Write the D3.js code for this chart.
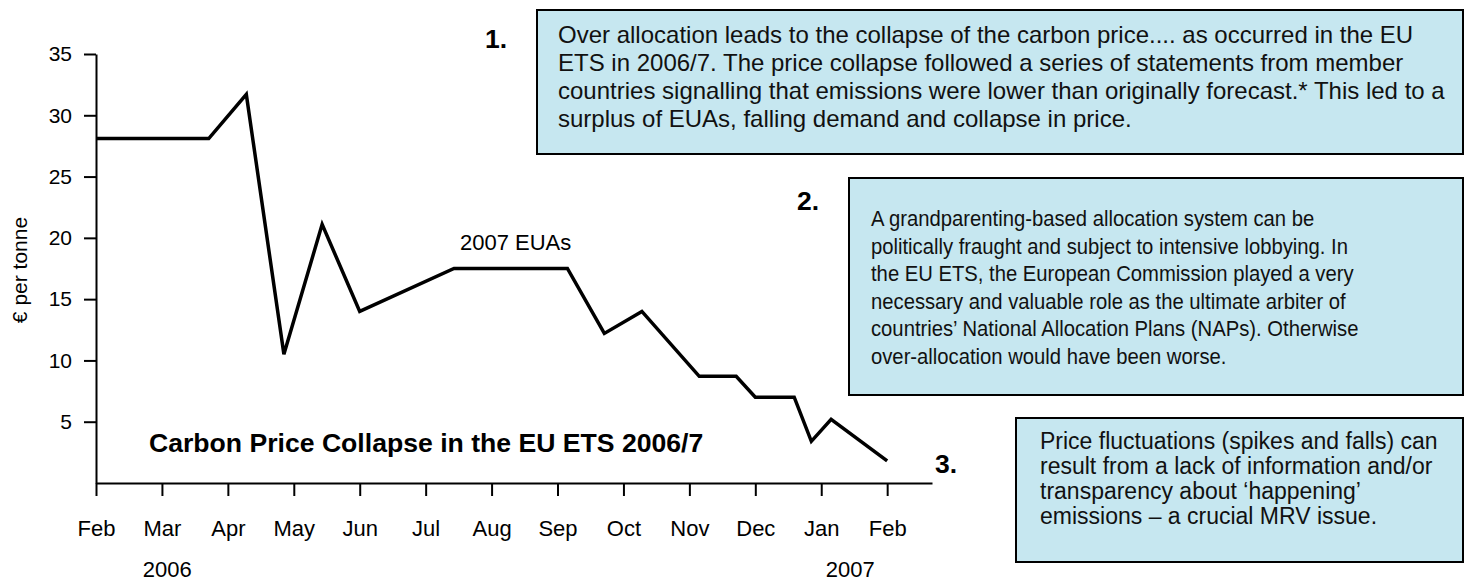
<!DOCTYPE html>
<html>
<head>
<meta charset="utf-8">
<script src="https://cdn.jsdelivr.net/npm/d3@7"></script>
<style>
  html, body { margin: 0; padding: 0; background: #fff; }
  svg { display: block; font-family: "Liberation Sans", Arial, sans-serif; }
</style>
</head>
<body>
<svg id="chart" width="1464" height="581"></svg>
<script>
// ---- data ----
const monthLabels = ["Feb","Mar","Apr","May","Jun","Jul","Aug","Sep","Oct","Nov","Dec","Jan","Feb"];
const yearLabels = ["2006","2007"];
const yearPos = [1.08, 11.44];
const yTickValues = [5,10,15,20,25,30,35];
// time position in months after Feb 2006
const monthPos = [0, 1.71, 2.28, 2.85, 3.43, 4.0, 5.43, 7.15, 7.71, 8.28, 9.15, 9.71, 10.0, 10.59, 10.85, 11.15, 12.0];
// price of 2007 EUAs, € per tonne
const price = [28.1, 28.1, 31.7, 10.5, 21.1, 14.0, 17.5, 17.5, 12.2, 14.0, 8.7, 8.7, 7.0, 7.0, 3.4, 5.2, 1.8];
const seriesLabel = "2007 EUAs";
const seriesLabelAt = [5.52, 19.0];
const chartTitle = "Carbon Price Collapse in the EU ETS 2006/7";
const yAxisTitle = "€ per tonne";

const note1 = [
  "Over allocation leads to the collapse of the carbon price.... as occurred in the EU",
  "ETS in 2006/7. The price collapse followed a series of statements from member",
  "countries signalling that emissions were lower than originally forecast.* This led to a",
  "surplus of EUAs, falling demand and collapse in price."
];
const note2 = [
  "A grandparenting-based allocation system can be",
  "politically fraught and subject to intensive lobbying. In",
  "the EU ETS, the European Commission played a very",
  "necessary and valuable role as the ultimate arbiter of",
  "countries’ National Allocation Plans (NAPs). Otherwise",
  "over-allocation would have been worse."
];
const note3 = [
  "Price fluctuations (spikes and falls) can",
  "result from a lack of information and/or",
  "transparency about ‘happening’",
  "emissions – a crucial MRV issue."
];

// ---- drawing ----
const svg = d3.select("#chart");
const x = d3.scaleLinear().domain([0, 12.68]).range([96, 932]);
const y = d3.scaleLinear().domain([0, 35]).range([483, 54]);

// x axis
const xAxis = d3.axisBottom(x)
  .tickValues(d3.range(monthLabels.length))
  .tickFormat(i => monthLabels[i])
  .tickSize(13).tickSizeOuter(0).tickPadding(24);
const gx = svg.append("g").attr("transform", `translate(0,${y(0)})`).call(xAxis);
gx.selectAll("text").attr("font-size", 22).attr("fill", "#000").attr("font-family", null);
gx.selectAll("line, path").attr("stroke", "#000").attr("stroke-width", 2);

// y axis
const yAxis = d3.axisLeft(y)
  .tickValues(yTickValues)
  .tickSize(12).tickSizeOuter(0).tickPadding(12);
const gy = svg.append("g").attr("transform", `translate(${x(0)},0)`).call(yAxis);
gy.selectAll("text").attr("font-size", 21).attr("fill", "#000").attr("font-family", null);
gy.selectAll("line, path").attr("stroke", "#000").attr("stroke-width", 2);

// year labels
svg.selectAll("text.year").data(yearLabels).join("text")
  .attr("class", "year")
  .attr("x", (d, i) => x(yearPos[i]))
  .attr("y", 577)
  .attr("text-anchor", "middle")
  .attr("font-size", 22)
  .text(d => d);

// y axis title
svg.append("text")
  .attr("transform", `translate(27,270) rotate(-90)`)
  .attr("text-anchor", "middle")
  .attr("font-size", 21)
  .text(yAxisTitle);

// line
const pts = monthPos.map((m, i) => [m, price[i]]);
svg.append("path")
  .datum(pts)
  .attr("fill", "none")
  .attr("stroke", "#000")
  .attr("stroke-width", 3.5)
  .attr("stroke-linejoin", "miter")
  .attr("d", d3.line().x(d => x(d[0])).y(d => y(d[1])));

// series label
svg.append("text")
  .attr("x", x(seriesLabelAt[0]))
  .attr("y", y(seriesLabelAt[1]))
  .attr("font-size", 22)
  .text(seriesLabel);

// title
svg.append("text")
  .attr("x", 149).attr("y", 452)
  .attr("font-size", 26.6)
  .attr("font-weight", "bold")
  .text(chartTitle);

// note boxes
function noteBox(num, numX, numY, bx, by, bw, bh, lines, tx, ty, lh, fs, sx) {
  svg.append("text")
    .attr("x", numX).attr("y", numY)
    .attr("font-size", 26.5).attr("font-weight", "bold")
    .text(num);
  svg.append("rect")
    .attr("x", bx).attr("y", by).attr("width", bw).attr("height", bh)
    .attr("fill", "#c6e7f0").attr("stroke", "#000").attr("stroke-width", 2);
  svg.append("g")
    .attr("transform", `translate(${tx},${ty}) scale(${sx},1)`)
    .selectAll("text").data(lines).join("text")
    .attr("x", 0)
    .attr("y", (d, i) => i * lh)
    .attr("font-size", fs)
    .attr("fill", "#111")
    .text(d => d);
}
noteBox("1.", 485, 48, 537, 10, 926, 144, note1, 558, 43, 28, 24, 1);
noteBox("2.", 797, 210, 849, 178, 614, 217, note2, 871, 226, 27.6, 22.5, 0.9);
noteBox("3.", 935, 473, 1016, 418, 447, 144, note3, 1040, 449, 25, 23, 1);
</script>
</body>
</html>
